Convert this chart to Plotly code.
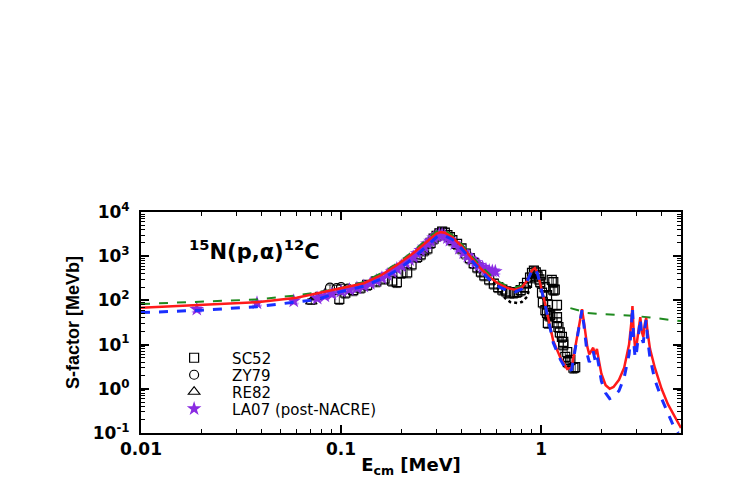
import plotly.graph_objects as go

# ---------------- data ----------------
# SC52 (open squares)
sc52_e = [0.098, 0.105, 0.115, 0.125, 0.135, 0.15, 0.165, 0.18, 0.19, 0.2, 0.214, 0.225, 0.24, 0.25,
          0.26, 0.27, 0.28, 0.29, 0.30, 0.31, 0.32, 0.33, 0.34, 0.35, 0.36, 0.38, 0.40, 0.42, 0.44,
          0.46, 0.48, 0.50, 0.52, 0.55, 0.58, 0.61, 0.64, 0.67, 0.70, 0.73, 0.76, 0.79, 0.82, 0.85,
          0.88, 0.90, 0.92, 0.94, 0.96, 0.98, 0.99, 1.0, 1.01, 1.02, 1.04, 1.05, 1.07, 1.07, 1.08,
          1.08, 1.10, 1.11, 1.13, 1.15, 1.15, 1.17, 1.20, 1.20, 1.20, 1.22, 1.24, 1.27, 1.29, 1.29,
          1.32, 1.35, 1.36, 1.40, 1.45, 1.48]
sc52_s = [108, 150, 170, 195, 225, 270, 310, 280, 260, 420, 430, 650, 960, 1100,
          1350, 1500, 2000, 2500, 2900, 3300, 3600, 3400, 3000, 2700, 2300, 1900, 1500, 1150, 900,
          700, 560, 450, 370, 300, 240, 200, 175, 160, 150, 150, 155, 170, 200, 250,
          330, 420, 470, 430, 350, 300, 260, 380, 150, 90, 200, 60, 52, 132, 31,
          80, 45, 47, 290, 260, 175, 175, 79, 42, 32, 25, 19, 15, 10, 11.5,
          5.3, 6.8, 4.0, 4.5, 3.0, 3.1]

# ZY79 (open circles)
zy79_e = [0.088, 0.095, 0.100, 0.108]
zy79_s = [195, 190, 200, 185]

# RE82 (open triangles)
re82_e = [0.071, 0.075, 0.083]
re82_s = [95, 118, 140]

# LA07 (post-NACRE) stars
la07_e = [0.019, 0.038, 0.058, 0.076, 0.083, 0.09, 0.10, 0.11, 0.12, 0.13, 0.14, 0.15, 0.16, 0.17,
          0.18, 0.19, 0.20, 0.21, 0.22, 0.23, 0.24, 0.25, 0.26, 0.27, 0.28, 0.29, 0.30, 0.31, 0.32,
          0.33, 0.34, 0.35, 0.37, 0.39, 0.41, 0.43, 0.45, 0.47, 0.49, 0.51, 0.53, 0.55, 0.57, 0.59]
la07_s = [63, 87, 97, 112, 125, 140, 160, 175, 190, 210, 240, 280, 320, 380,
          440, 520, 600, 700, 830, 950, 1150, 1350, 1600, 1900, 2200, 2600, 2900, 3100, 3100,
          2900, 2600, 2300, 1900, 1500, 1200, 1000, 850, 720, 620, 560, 500, 470, 460, 450]

# red solid curve
red_e = [0.01, 0.02, 0.038, 0.06, 0.076, 0.10, 0.13, 0.16, 0.19, 0.23, 0.26, 0.28, 0.30, 0.315,
         0.33, 0.36, 0.40, 0.45, 0.50, 0.56, 0.62, 0.68, 0.74, 0.80, 0.85, 0.90, 0.93, 0.96, 1.0,
         1.05, 1.10, 1.15, 1.25, 1.35, 1.42, 1.50, 1.57, 1.60, 1.64, 1.70, 1.74, 1.78, 1.82, 1.86,
         1.90, 1.95, 2.0, 2.1, 2.2, 2.3, 2.45, 2.6, 2.75, 2.82, 2.86, 2.90, 2.95, 3.0, 3.08, 3.13,
         3.18, 3.24, 3.30, 3.35, 3.40, 3.5, 3.7, 4.0, 4.3, 4.6, 5.0]
red_s = [68, 78, 91, 115, 145, 186, 245, 380, 630, 1180, 1900, 2600, 3250, 3500,
         3400, 2700, 1700, 900, 520, 320, 230, 190, 175, 195, 280, 480, 540, 420, 200,
         80, 30, 12, 5, 2.8, 3.0, 12, 40, 63, 30, 9, 6, 7, 8.5, 6,
         8, 4, 2.2, 1.2, 1.0, 1.1, 1.6, 3, 10, 30, 74, 20, 8, 10, 25, 42,
         20, 15, 30, 40, 20, 8, 3, 1.0, 0.45, 0.25, 0.13]

# blue dashed curve
blue_e = [0.01, 0.02, 0.038, 0.06, 0.076, 0.10, 0.13, 0.16, 0.19, 0.23, 0.26, 0.28, 0.30, 0.315,
          0.33, 0.36, 0.40, 0.45, 0.50, 0.56, 0.62, 0.68, 0.74, 0.80, 0.85, 0.90, 0.93, 0.96, 1.0,
          1.05, 1.10, 1.15, 1.25, 1.35, 1.42, 1.50, 1.57, 1.60, 1.64, 1.70, 1.74, 1.78, 1.82, 1.86,
          1.90, 1.95, 2.0, 2.1, 2.2, 2.3, 2.45, 2.6, 2.75, 2.82, 2.86, 2.90, 2.95, 3.0, 3.08, 3.13,
          3.18, 3.24, 3.30, 3.35, 3.40, 3.5, 3.7, 4.0, 4.3, 4.6, 4.85]
blue_s = [53, 60, 72, 90, 105, 158, 210, 310, 480, 900, 1500, 2100, 2700, 3000,
          2900, 2400, 1500, 800, 460, 280, 200, 165, 155, 180, 270, 470, 530, 400, 190,
          75, 28, 11, 4.5, 2.5, 2.7, 11, 38, 60, 25, 6, 4, 5, 7, 4.5,
          6, 3, 1.5, 0.8, 0.6, 0.65, 0.9, 1.8, 6, 22, 70, 12, 5, 7, 20, 38,
          14, 11, 24, 36, 14, 5, 1.6, 0.6, 0.28, 0.14, 0.1]

# green dashed curve (two pieces)
green1_e = [0.01, 0.02, 0.038, 0.06, 0.076, 0.10, 0.13, 0.16, 0.19, 0.23, 0.26, 0.28, 0.30, 0.315,
            0.33, 0.36, 0.40, 0.45, 0.50, 0.56, 0.62, 0.68, 0.74, 0.80, 0.85, 0.90, 0.93, 0.96, 1.0,
            1.05, 1.10, 1.16]
green1_s = [83, 92, 105, 130, 152, 190, 260, 420, 680, 1300, 2100, 2900, 3600, 4000,
            3800, 3000, 1900, 1000, 600, 370, 260, 210, 195, 215, 300, 500, 560, 430, 200,
            80, 30, 10]
green2_e = [1.40, 1.70, 2.0, 2.5, 2.88, 3.5, 4.2, 5.0]
green2_s = [67, 52, 49, 47, 45, 41, 37, 34]

# black dotted curve
black_e = [0.40, 0.45, 0.50, 0.56, 0.62, 0.66, 0.70, 0.76, 0.80, 0.85, 0.90, 0.93]
black_s = [1650, 880, 500, 290, 170, 112, 92, 87, 92, 120, 300, 520]

# ---------------- figure ----------------
fig = go.Figure()

fig.add_trace(go.Scatter(x=black_e, y=black_s, mode="lines", showlegend=False,
                         line=dict(color="black", width=2.5, dash="dot"), hoverinfo="skip"))

fig.add_trace(go.Scatter(
    x=sc52_e, y=sc52_s, mode="markers", name="SC52", legend="legend",
    marker=dict(symbol="square-open", size=9, color="black", line=dict(width=1.2)),
    error_y=dict(type="percent", value=25, color="rgba(0,0,0,0.75)", thickness=1, width=4)))
fig.add_trace(go.Scatter(
    x=zy79_e, y=zy79_s, mode="markers", name="ZY79", legend="legend2",
    marker=dict(symbol="circle-open", size=9, color="black", line=dict(width=1.2)),
    error_y=dict(type="percent", value=15, color="rgba(0,0,0,0.75)", thickness=1, width=4)))
fig.add_trace(go.Scatter(
    x=re82_e, y=re82_s, mode="markers", name="RE82", legend="legend3",
    marker=dict(symbol="triangle-up-open", size=10, color="black", line=dict(width=1.2)),
    error_y=dict(type="percent", value=15, color="rgba(0,0,0,0.75)", thickness=1, width=4)))
fig.add_trace(go.Scatter(
    x=la07_e, y=la07_s, mode="markers", name="LA07 (post-NACRE)", legend="legend4",
    marker=dict(symbol="star", size=11, color="#8a2be2", line=dict(width=0)),
    error_y=dict(type="percent", value=12, color="rgba(170,110,255,0.6)", thickness=2, width=5)))

fig.add_trace(go.Scatter(x=green1_e, y=green1_s, mode="lines", showlegend=False,
                         line=dict(color="#1f8a1f", width=2, dash="dash"), hoverinfo="skip"))
fig.add_trace(go.Scatter(x=green2_e, y=green2_s, mode="lines", showlegend=False,
                         line=dict(color="#1f8a1f", width=2, dash="dash"), hoverinfo="skip"))
fig.add_trace(go.Scatter(x=red_e, y=red_s, mode="lines", showlegend=False,
                         line=dict(color="#ff1a1a", width=2.5), hoverinfo="skip"))
fig.add_trace(go.Scatter(x=blue_e, y=blue_s, mode="lines", showlegend=False,
                         line=dict(color="#1a2fff", width=3, dash="dash"), hoverinfo="skip"))

tickfont = dict(family="DejaVu Sans", size=17, color="black", weight="bold")

x_minor = [k * 10 ** d for d in (-2, -1, 0) for k in range(2, 10)]
y_minor = [k * 10 ** d for d in (-1, 0, 1, 2, 3) for k in range(2, 10)]

fig.update_xaxes(
    type="log", range=[-2, 0.699], automargin=False,
    tickmode="array", tickvals=[0.01, 0.1, 1], ticktext=["0.01", "0.1", "1"],
    ticks="inside", ticklen=8, tickwidth=1.5, tickcolor="black",
    minor=dict(tickmode="array", tickvals=x_minor, ticks="inside", ticklen=4,
               tickwidth=1, tickcolor="black", showgrid=False),
    showline=True, linewidth=2, linecolor="black", mirror="allticks",
    showgrid=False, zeroline=False, tickfont=tickfont, ticklabelstandoff=0,
    title=dict(text="<b>E<sub>cm</sub> [MeV]</b>",
               font=dict(family="DejaVu Sans", size=18, color="black"), standoff=0),
)
fig.update_yaxes(
    type="log", range=[-1, 4], automargin=False,
    tickmode="array", tickvals=[0.1, 1, 10, 100, 1000, 10000],
    ticktext=["10<sup>-1</sup>", "10<sup>0</sup>", "10<sup>1</sup>", "10<sup>2</sup>",
              "10<sup>3</sup>", "10<sup>4</sup>"],
    ticks="inside", ticklen=8, tickwidth=1.5, tickcolor="black",
    minor=dict(tickmode="array", tickvals=y_minor, ticks="inside", ticklen=4,
               tickwidth=1, tickcolor="black", showgrid=False),
    showline=True, linewidth=2, linecolor="black", mirror="allticks",
    showgrid=False, zeroline=False, tickfont=tickfont, ticklabelstandoff=6,
    title=dict(text="<b>S-factor [MeVb]</b>",
               font=dict(family="Liberation Sans Narrow, Liberation Sans", size=18, color="black"),
               standoff=8),
)

fig.add_annotation(
    text="<b><sup>15</sup>N(p,α)<sup>12</sup>C</b>", xref="paper", yref="paper",
    x=0.085, y=0.83, xanchor="left", yanchor="middle", showarrow=False,
    font=dict(family="DejaVu Sans", size=21, color="black"))

legfont = dict(family="DejaVu Sans", size=15, color="black")
leg_common = dict(xanchor="left", yanchor="middle", bgcolor="rgba(0,0,0,0)",
                  itemwidth=66, font=legfont, borderwidth=0)
leg_x = 0.028


def ypos(py):
    return (433 - py) / 221.0


# page body has an 8px default margin, so the figure is made 8px smaller
fig.update_layout(
    width=739, height=477,
    margin=dict(l=133, r=66, t=204, b=52, autoexpand=False),
    paper_bgcolor="white", plot_bgcolor="white",
    legend=dict(x=leg_x, y=ypos(358), **leg_common),
    legend2=dict(x=leg_x, y=ypos(375), **leg_common),
    legend3=dict(x=leg_x, y=ypos(392), **leg_common),
    legend4=dict(x=leg_x, y=ypos(409), **leg_common),
    showlegend=True,
)

fig.write_html("out.html")
